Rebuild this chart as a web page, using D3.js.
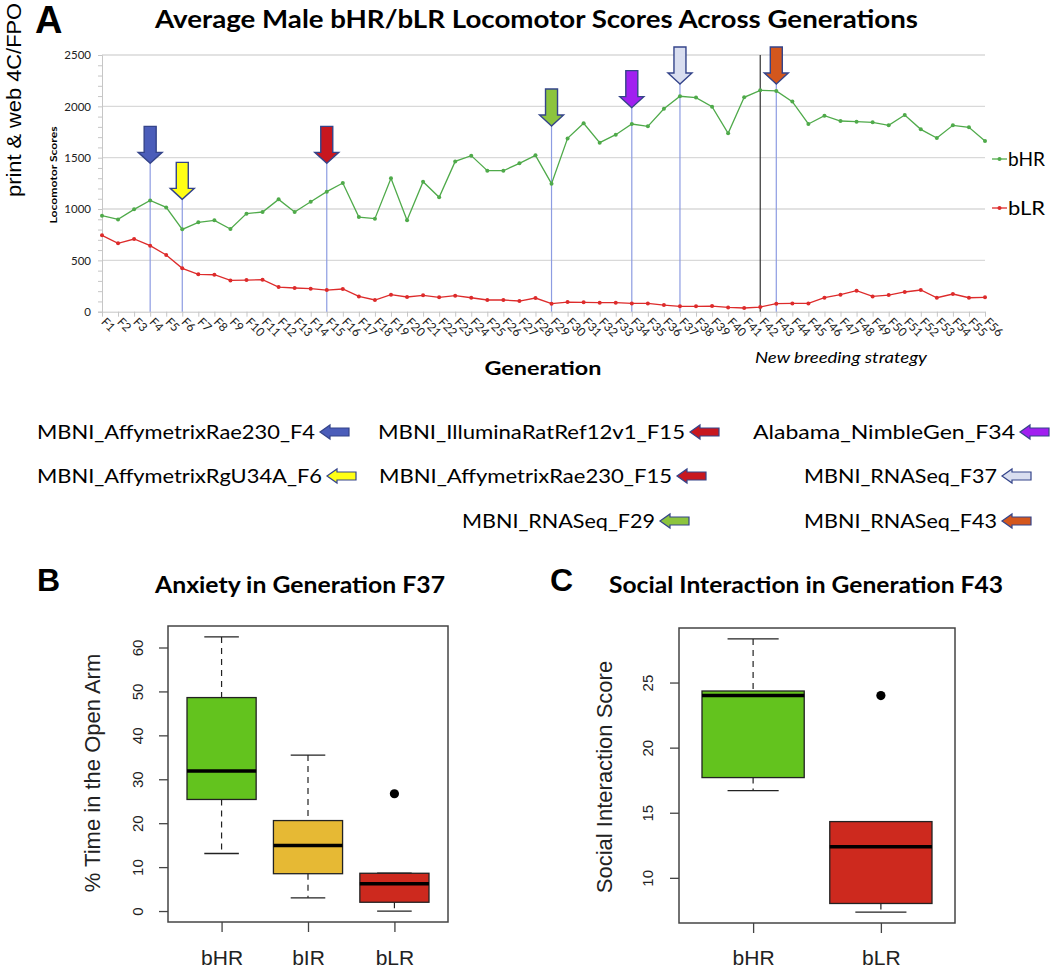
<!DOCTYPE html>
<html>
<head>
<meta charset="utf-8">
<script src="https://cdn.jsdelivr.net/npm/d3@7"></script>
<style>
  body { margin: 0; background: #fff; }
  svg { display: block; }
</style>
</head>
<body>
<div id="fig"></div>
<script>
'use strict';

// ---- data ----
var generations = d3.range(1, 57).map(function (i) { return 'F' + i; });

var bHR = [935, 899, 997, 1084, 1016, 802, 870, 890, 805, 955,
    971, 1094, 971, 1071, 1169, 1253, 922, 906, 1299, 890,
    1266, 1114, 1464, 1520, 1373, 1373, 1445, 1523, 1247, 1688,
    1835, 1646, 1724, 1828, 1805, 1977, 2098, 2085, 1997, 1737,
    2088, 2156, 2150, 2046, 1828, 1909, 1857, 1851, 1844, 1815,
    1916, 1776, 1692, 1815, 1796, 1662];

var bLR = [744, 666, 708, 643, 552, 422, 364, 360, 305, 308,
    312, 240, 231, 224, 211, 221, 149, 114, 166, 143,
    159, 140, 156, 136, 114, 114, 104, 133, 78, 94,
    91, 88, 88, 81, 81, 65, 52, 52, 55, 42,
    36, 45, 78, 81, 81, 136, 166, 205, 149, 162,
    192, 211, 136, 172, 136, 140];

var yTicksA = [0, 500, 1000, 1500, 2000, 2500];

// dataset arrows: generation and where the arrow tip sits (score units)
var arrowGens = ['F4', 'F6', 'F15', 'F29', 'F34', 'F37', 'F43'];
var arrowTips = [1445, 1094, 1445, 1808, 1987, 2217, 2217];
var newStrategyGen = 'F42';

var datasetLabels = ['MBNI_AffymetrixRae230_F4', 'MBNI_AffymetrixRgU34A_F6',
    'MBNI_IlluminaRatRef12v1_F15', 'MBNI_AffymetrixRae230_F15', 'MBNI_RNASeq_F29',
    'Alabama_NimbleGen_F34', 'MBNI_RNASeq_F37', 'MBNI_RNASeq_F43'];
var datasetGens = ['F4', 'F6', 'F15', 'F15', 'F29', 'F34', 'F37', 'F43'];

// box plot B (% time in open arm, F37)
var groupsB = ['bHR', 'bIR', 'bLR'];
var statsB = [
    {lo: 13.1, q1: 25.4, med: 31.9, q3: 48.6, hi: 62.4, out: []},
    {lo: 3.0, q1: 8.5, med: 14.9, q3: 20.6, hi: 35.5, out: []},
    {lo: 0.0, q1: 2.0, med: 6.2, q3: 8.6, hi: 8.6, out: [26.7]}
];
var yTicksB = [0, 10, 20, 30, 40, 50, 60];

// box plot C (social interaction, F43)
var groupsC = ['bHR', 'bLR'];
var statsC = [
    {lo: 16.7, q1: 17.7, med: 24.0, q3: 24.35, hi: 28.35, out: []},
    {lo: 7.37, q1: 8.03, med: 12.38, q3: 14.32, hi: 14.32, out: [24.0]}
];
var yTicksC = [10, 15, 20, 25];

// ---- styles ----
var arrowColors = {
    F4: '#4b5dba', F6: '#ffff14', F15: '#c8171f', F29: '#8cc43e',
    F34: '#a11ff0', F37: '#d9def0', F43: '#d4571d'
};
var arrowEdge = '#34448a';
var green = '#4faa4a', red = '#dd2b2b';
var boxFillsB = ['#63c31e', '#e6b934', '#cd291e'];
var boxFillsC = ['#63c31e', '#cd291e'];
var calibri = 'Lato, "Open Sans", sans-serif';
var helv = '"Liberation Sans", Arial, sans-serif';

var W = 1050, H = 969;
var svg = d3.select('#fig').append('svg').attr('width', W).attr('height', H)
    .style('font-family', calibri);

// ---------------- panel A ----------------
var x = d3.scalePoint().domain(generations).range([102, 985]);
var y = d3.scaleLinear().domain([0, 2500]).range([311.7, 55]);

svg.append('text').attr('x', 35).attr('y', 33)
    .attr('font-family', helv).attr('font-weight', 'bold').attr('font-size', 38)
    .text('A');

svg.append('text').attr('x', 155).attr('y', 28)
    .attr('font-weight', 'bold').attr('font-size', 25)
    .attr('textLength', 763).attr('lengthAdjust', 'spacingAndGlyphs')
    .text('Average Male bHR/bLR Locomotor Scores Across Generations');

svg.append('text')
    .attr('transform', 'translate(21,197) rotate(-90)')
    .attr('font-family', helv).attr('font-size', 21)
    .attr('textLength', 194).attr('lengthAdjust', 'spacingAndGlyphs')
    .text('print & web 4C/FPO');

// gridlines
svg.append('g').selectAll('line').data(yTicksA.slice(1)).enter().append('line')
    .attr('x1', 102).attr('x2', 985)
    .attr('y1', function (d) { return y(d); }).attr('y2', function (d) { return y(d); })
    .attr('stroke', '#d9d9d9').attr('stroke-width', 1.3);

// y axis with minor ticks every 100
var yAxisA = d3.axisLeft(y).tickValues(d3.range(0, 2501, 100)).tickSize(4)
    .tickFormat(function (d) { return d % 500 === 0 ? d : ''; });
var gy = svg.append('g').attr('transform', 'translate(102,0)').call(yAxisA);
gy.select('.domain').attr('stroke', '#c6c6c6');
gy.selectAll('.tick line').attr('stroke', '#c6c6c6');
gy.selectAll('.tick text').attr('x', -11).attr('font-family', calibri)
    .attr('font-size', 11.5).attr('fill', '#222');

svg.append('text')
    .attr('transform', 'translate(57,175) rotate(-90)')
    .attr('text-anchor', 'middle').attr('font-weight', 'bold').attr('font-size', 10)
    .attr('textLength', 97).attr('lengthAdjust', 'spacingAndGlyphs')
    .text('Locomotor Scores');

// x axis
var xAxisA = d3.axisBottom(x).tickSize(5).tickSizeOuter(0);
var gx = svg.append('g').attr('transform', 'translate(0,311.7)').call(xAxisA);
gx.select('.domain').attr('stroke', '#c6c6c6');
gx.selectAll('.tick line').attr('stroke', '#c6c6c6');
gx.selectAll('.tick text')
    .attr('font-family', calibri).attr('font-size', 12).attr('fill', '#222')
    .attr('text-anchor', 'start').attr('y', 0).attr('dy', 0)
    .attr('transform', 'translate(-2,11) rotate(45)');

svg.append('text').attr('x', 543).attr('y', 375).attr('text-anchor', 'middle')
    .attr('font-weight', 'bold').attr('font-size', 18)
    .attr('textLength', 117).attr('lengthAdjust', 'spacingAndGlyphs')
    .text('Generation');

svg.append('text').attr('x', 841).attr('y', 363).attr('text-anchor', 'middle')
    .attr('font-style', 'italic').attr('font-size', 16)
    .attr('textLength', 172).attr('lengthAdjust', 'spacingAndGlyphs')
    .text('New breeding strategy');

// new breeding strategy marker
svg.append('line')
    .attr('x1', x(newStrategyGen)).attr('x2', x(newStrategyGen))
    .attr('y1', y(2500)).attr('y2', y(0))
    .attr('stroke', '#333').attr('stroke-width', 1.2);

// dataset guide lines
svg.append('g').selectAll('line').data(arrowGens).enter().append('line')
    .attr('x1', function (d) { return x(d); }).attr('x2', function (d) { return x(d); })
    .attr('y1', function (d, i) { return y(arrowTips[i]); }).attr('y2', y(0))
    .attr('stroke', '#8d9ce2').attr('stroke-width', 1.2);

// series
var line = d3.line().x(function (d, i) { return x(generations[i]); }).y(function (d) { return y(d); });
[[bHR, green], [bLR, red]].forEach(function (s) {
    svg.append('path').datum(s[0]).attr('d', line)
        .attr('fill', 'none').attr('stroke', s[1]).attr('stroke-width', 1.3);
    svg.append('g').selectAll('circle').data(s[0]).enter().append('circle')
        .attr('cx', function (d, i) { return x(generations[i]); })
        .attr('cy', function (d) { return y(d); })
        .attr('r', 2).attr('fill', s[1]);
});

// down arrows
function downArrow(tx, ty) {
    // tip at (tx, ty); total height 37, shaft 12 wide, head 24 wide
    var p = d3.path();
    p.moveTo(tx, ty);
    p.lineTo(tx - 12, ty - 11);
    p.lineTo(tx - 6, ty - 11);
    p.lineTo(tx - 6, ty - 37);
    p.lineTo(tx + 6, ty - 37);
    p.lineTo(tx + 6, ty - 11);
    p.lineTo(tx + 12, ty - 11);
    p.closePath();
    return p.toString();
}
svg.append('g').selectAll('path').data(arrowGens).enter().append('path')
    .attr('d', function (d, i) { return downArrow(x(d), y(arrowTips[i])); })
    .attr('fill', function (d) { return arrowColors[d]; })
    .attr('stroke', arrowEdge).attr('stroke-width', 1.4).attr('stroke-linejoin', 'miter');

// series legend
[['bHR', green, 159], ['bLR', red, 208]].forEach(function (s) {
    svg.append('line').attr('x1', 992).attr('x2', 1007).attr('y1', s[2]).attr('y2', s[2])
        .attr('stroke', s[1]).attr('stroke-width', 1.3);
    svg.append('circle').attr('cx', 999.5).attr('cy', s[2]).attr('r', 2).attr('fill', s[1]);
    svg.append('text').attr('x', 1008).attr('y', s[2] + 7).attr('font-size', 19)
        .attr('textLength', 37).attr('lengthAdjust', 'spacingAndGlyphs').text(s[0]);
});

// dataset legend
var legendLayout = [
    [37, 315, 439], [37, 322, 483], [378, 685, 439], [379, 672, 483],
    [462, 655, 528], [753, 1015, 439], [804, 997, 483], [804, 997, 528]
];
function leftArrow(lx, cy) {
    var p = d3.path();
    p.moveTo(lx, cy);
    p.lineTo(lx + 10, cy - 7);
    p.lineTo(lx + 10, cy - 4);
    p.lineTo(lx + 29, cy - 4);
    p.lineTo(lx + 29, cy + 4);
    p.lineTo(lx + 10, cy + 4);
    p.lineTo(lx + 10, cy + 7);
    p.closePath();
    return p.toString();
}
var lg = svg.append('g').selectAll('g').data(datasetLabels).enter().append('g');
lg.append('text')
    .attr('x', function (d, i) { return legendLayout[i][0]; })
    .attr('y', function (d, i) { return legendLayout[i][2]; })
    .attr('font-size', 20)
    .attr('textLength', function (d, i) { return legendLayout[i][1] - legendLayout[i][0]; })
    .attr('lengthAdjust', 'spacingAndGlyphs')
    .text(function (d) { return d; });
lg.append('path')
    .attr('d', function (d, i) { return leftArrow(legendLayout[i][1] + 5, legendLayout[i][2] - 7); })
    .attr('fill', function (d, i) { return arrowColors[datasetGens[i]]; })
    .attr('stroke', arrowEdge).attr('stroke-width', 1.2);

// ---------------- box plots ----------------
function boxPanel(opt) {
    var n = opt.groups.length;
    var lo = d3.min(opt.stats, function (s) { return d3.min([s.lo].concat(s.out)); });
    var hi = d3.max(opt.stats, function (s) { return d3.max([s.hi].concat(s.out)); });
    var ext = (hi - lo) * 0.04;
    var bx = d3.scaleLinear().domain([0.5 - 0.04 * n, n + 0.5 + 0.04 * n]).range([opt.left, opt.right]);
    var by = d3.scaleLinear().domain([lo - ext, hi + ext]).range([opt.bottom, opt.top]);
    var g = svg.append('g');

    g.append('text').attr('x', opt.letterX).attr('y', 591)
        .attr('font-family', helv).attr('font-weight', 'bold').attr('font-size', 32)
        .text(opt.letter);
    g.append('text').attr('x', opt.titleX).attr('y', 593)
        .attr('font-weight', 'bold').attr('font-size', 23)
        .attr('textLength', opt.titleW).attr('lengthAdjust', 'spacingAndGlyphs')
        .text(opt.title);

    var boxW = 0.8;
    var grp = g.selectAll('g.box').data(opt.stats).enter().append('g');
    grp.append('line')
        .attr('x1', function (d, i) { return bx(i + 1); }).attr('x2', function (d, i) { return bx(i + 1); })
        .attr('y1', function (d) { return by(d.hi); }).attr('y2', function (d) { return by(d.q3); })
        .attr('stroke', '#222').attr('stroke-width', 1.2).attr('stroke-dasharray', '6,5');
    grp.append('line')
        .attr('x1', function (d, i) { return bx(i + 1); }).attr('x2', function (d, i) { return bx(i + 1); })
        .attr('y1', function (d) { return by(d.q1); }).attr('y2', function (d) { return by(d.lo); })
        .attr('stroke', '#222').attr('stroke-width', 1.2).attr('stroke-dasharray', '6,5');
    ['lo', 'hi'].forEach(function (k) {
        grp.append('line')
            .attr('x1', function (d, i) { return bx(i + 1 - boxW / 4); })
            .attr('x2', function (d, i) { return bx(i + 1 + boxW / 4); })
            .attr('y1', function (d) { return by(d[k]); }).attr('y2', function (d) { return by(d[k]); })
            .attr('stroke', '#222').attr('stroke-width', 1.3);
    });
    grp.append('rect')
        .attr('x', function (d, i) { return bx(i + 1 - boxW / 2); })
        .attr('width', bx(1 + boxW / 2) - bx(1 - boxW / 2))
        .attr('y', function (d) { return by(d.q3); })
        .attr('height', function (d) { return by(d.q1) - by(d.q3); })
        .attr('fill', function (d, i) { return opt.fills[i]; })
        .attr('stroke', '#222').attr('stroke-width', 1.3);
    grp.append('line')
        .attr('x1', function (d, i) { return bx(i + 1 - boxW / 2); })
        .attr('x2', function (d, i) { return bx(i + 1 + boxW / 2); })
        .attr('y1', function (d) { return by(d.med); }).attr('y2', function (d) { return by(d.med); })
        .attr('stroke', '#000').attr('stroke-width', 3.5);
    grp.each(function (d, i) {
        d3.select(this).selectAll('circle').data(d.out).enter().append('circle')
            .attr('cx', bx(i + 1)).attr('cy', function (v) { return by(v); })
            .attr('r', 4.6).attr('fill', '#000');
    });

    // frame
    g.append('rect').attr('x', opt.left).attr('y', opt.top)
        .attr('width', opt.right - opt.left).attr('height', opt.bottom - opt.top)
        .attr('fill', 'none').attr('stroke', '#444').attr('stroke-width', 1.5);

    // y axis (R style, labels parallel to axis)
    var ay = g.append('g').attr('transform', 'translate(' + opt.left + ',0)')
        .call(d3.axisLeft(by).tickValues(opt.yTicks).tickSize(9).tickSizeOuter(0).tickFormat(d3.format('d')));
    ay.select('.domain').remove();
    ay.selectAll('.tick line').attr('stroke', '#444').attr('stroke-width', 1.3);
    ay.selectAll('.tick text')
        .attr('x', 0).attr('dy', 0).attr('text-anchor', 'middle')
        .attr('transform', 'translate(' + (opt.tickLabelX - opt.left) + ',0) rotate(-90)')
        .attr('font-family', helv).attr('font-size', 15).attr('fill', '#222');

    var ax = g.append('g').attr('transform', 'translate(0,' + opt.bottom + ')')
        .call(d3.axisBottom(bx).tickValues(d3.range(1, n + 1)).tickSize(10).tickSizeOuter(0)
            .tickFormat(function (d) { return opt.groups[d - 1]; }));
    ax.select('.domain').remove();
    ax.selectAll('.tick line').attr('stroke', '#444').attr('stroke-width', 1.3);
    ax.selectAll('.tick text').attr('y', 965 - opt.bottom).attr('dy', 0)
        .attr('font-family', helv).attr('font-size', 21).attr('fill', '#222');

    g.append('text')
        .attr('transform', 'translate(' + opt.yTitleX + ',' + opt.yTitleY + ') rotate(-90)')
        .attr('text-anchor', 'middle').attr('font-family', helv).attr('font-size', 22)
        .attr('fill', '#222').text(opt.yTitle);
}

boxPanel({
    letter: 'B', letterX: 37, title: 'Anxiety in Generation F37', titleX: 155, titleW: 290,
    groups: groupsB, stats: statsB, fills: boxFillsB, yTicks: yTicksB,
    left: 168, right: 448, top: 626, bottom: 922, tickLabelX: 143,
    yTitle: '% Time in the Open Arm', yTitleX: 100, yTitleY: 773
});
boxPanel({
    letter: 'C', letterX: 550, title: 'Social Interaction in Generation F43', titleX: 609, titleW: 394,
    groups: groupsC, stats: statsC, fills: boxFillsC, yTicks: yTicksC,
    left: 679, right: 955, top: 628, bottom: 923, tickLabelX: 653,
    yTitle: 'Social Interaction Score', yTitleX: 612, yTitleY: 777
});
</script>
</body>
</html>
